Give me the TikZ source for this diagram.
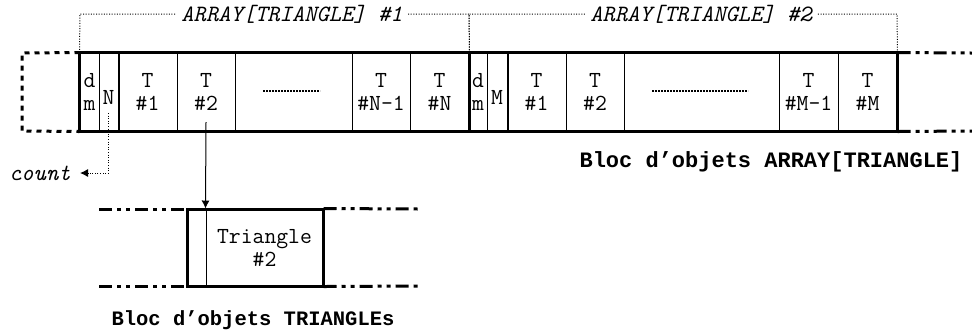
\documentclass[tikz,border=0pt]{standalone}
\usepackage{fontspec}
\newfontfamily\boldmono{Liberation Mono}
\usetikzlibrary{arrows.meta}
\begin{document}
\begin{tikzpicture}[x=0.5pt,y=-0.5pt,
  font=\fontsize{11.5}{11.5}\selectfont\ttfamily,
  cell/.style={draw,line width=0.5pt,inner sep=0pt,minimum height=39pt,align=center,
    execute at begin node={\rule{0pt}{12.5pt}}},
  heavy/.style={line width=1.5pt},
  medium/.style={line width=1pt},
  sqdots/.style={line width=1.5pt,dash pattern=on 2.5pt off 2.5pt},
  dashdotdot/.style={line width=1.5pt,dash pattern=on 6.5pt off 2.5pt on 2pt off 2.5pt on 2pt off 2.5pt},
  fine/.style={line width=0.5pt,dash pattern=on 0.5pt off 0.8pt},
  tip/.style={-{Latex[length=4pt,width=4pt]}},
  lbl/.style={font=\fontsize{11.7}{12}\selectfont\ttfamily\itshape,fill=white,inner xsep=2.5pt,inner ysep=1pt},
  caption/.style={font=\fontsize{10.25}{12}\selectfont\boldmono\bfseries}
]
\useasboundingbox (0,0) rectangle (972,329);
% ---- cells of the first array
\node[cell,minimum width=9.5pt]  (dm1) at (89.5,92)  {d\\m};
\node[cell,minimum width=9.5pt]  (n1)  at (108.5,92) {N};
\node[cell,minimum width=29.5pt] (t11) at (147.5,92) {T\\\#1};
\node[cell,minimum width=29pt]   (t12) at (206,92)   {T\\\#2};
\node[cell,minimum width=58.5pt] (d1)  at (293.5,92) {};
\node[cell,minimum width=29pt]   (t1a) at (381,92)   {T\\\#N-1};
\node[cell,minimum width=29.5pt] (t1b) at (439.5,92) {T\\\#N};
% ---- cells of the second array
\node[cell,minimum width=9pt]    (dm2) at (478,92)   {d\\m};
\node[cell,minimum width=10pt]   (m2)  at (497,92)   {M};
\node[cell,minimum width=29.5pt] (t21) at (536.5,92) {T\\\#1};
\node[cell,minimum width=29pt]   (t22) at (595,92)   {T\\\#2};
\node[cell,minimum width=77.5pt] (d2)  at (701.5,92) {};
\node[cell,minimum width=29.5pt] (t2a) at (808.5,92) {T\\\#M-1};
\node[cell,minimum width=29.5pt] (t2b) at (867.5,92) {T\\\#M};
% dotted fillers
\draw[line width=1pt,dash pattern=on 0.8pt off 0.7pt] (263,91) -- (320,91);
\draw[line width=1pt,dash pattern=on 0.8pt off 0.7pt] (652,91) -- (748,91);
% heavy outline
\draw[heavy] (dm1.north west) rectangle (t2b.south east);
\draw[heavy] (t1b.north east) -- (t1b.south east);
\draw[medium] (n1.north east) -- (n1.south east);
\draw[medium] (m2.north east) -- (m2.south east);
% left dotted and right dash-dot continuation
\draw[sqdots] (dm1.north west) -- (22,53) -- (22,131) -- (dm1.south west);
\draw[dashdotdot] (t2b.north east) -- (972,53);
\draw[dashdotdot] (t2b.south east) -- (972,131);
% brackets
\draw[fine] (dm1.north west) -- (80,14) -- (469,14) -- (t1b.north east);
\draw[fine] (t1b.north east) -- (469,14) -- (897,14) -- (t2b.north east);
\node[lbl] (a1) at (292,14) {ARRAY[TRIANGLE] \#1};
\node[lbl] (a2) at (701,14) {ARRAY[TRIANGLE] \#2};
% count
\node[anchor=east,inner xsep=4.5pt,inner ysep=1pt,font=\fontsize{11.7}{12}\selectfont\ttfamily\itshape] (cnt) at (80,173) {count};
\draw[fine,tip] (n1.center |- 0,113) -- (n1.center |- 0,173) -- (cnt.east);
% label of top block
\node[caption,font=\fontsize{11}{13}\selectfont\boldmono\bfseries] (bl1) at (771,162) {Bloc d’objets ARRAY[TRIANGLE]};
% triangle block
\node[cell,minimum width=58.5pt,minimum height=38.5pt] (tri) at (264.5,247.5) {Triangle\\\#2};
\coordinate (trl) at (187,209);
\coordinate (trb) at (187,286);
\draw[heavy] (trl) rectangle (tri.south east);
\draw[dashdotdot] (99,209) -- (trl);
\draw[dashdotdot] (99,286) -- (trb);
\draw[dashdotdot] (tri.north east) -- (420,209);
\draw[dashdotdot] (tri.south east) -- (420,286);
\draw[line width=0.5pt,tip] (t12.center |- 0,122) -- (tri.north west);
\node[caption] (bl2) at (253,320) {Bloc d’objets TRIANGLEs};
\end{tikzpicture}
\end{document}
